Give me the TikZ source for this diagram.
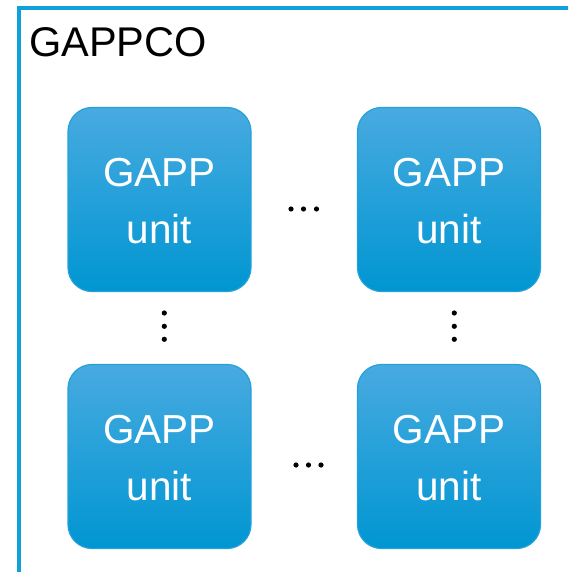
\documentclass[tikz,border=0pt]{standalone}
\usepackage{fontspec}
\setmainfont{Liberation Sans}
\usetikzlibrary{calc}
\definecolor{framecol}{RGB}{16,160,218}
\definecolor{unittop}{RGB}{72,170,224}
\definecolor{unitmid}{RGB}{10,161,221}
\definecolor{unitbot}{RGB}{0,150,210}
\definecolor{unitedge}{RGB}{36,162,216}
\tikzset{
  unitbox/.style={rounded corners=24pt, minimum width=183pt, minimum height=184pt,
    top color=unittop, middle color=unitmid, bottom color=unitbot,
    draw=unitedge, line width=1.2pt, inner sep=0pt},
  unittext/.style={text=white, anchor=base, inner sep=0pt,
    font=\fontsize{40.5}{48}\selectfont},
  titletext/.style={anchor=base west, inner sep=0pt, font=\fontsize{41.5}{48}\selectfont},
  dotmark/.style={fill=black}
}
\begin{document}
\begin{tikzpicture}[x=1pt, y=-1pt]
  \useasboundingbox (0,0) rectangle (568,572);
  \clip (0,0) rectangle (568,572);
  % outer container, open towards the right and the bottom
  \draw[framecol, line width=3.5pt] (19,590) -- (19,8) -- (590,8);
  \node[titletext] (title) at (29,57) {GAPPCO};

  % processing units
  \node[unitbox] (u11) at (159.5,199.5) {};
  \node[unitbox] (u12) at (449,199.5) {};
  \node[unitbox] (u21) at (159.5,456.5) {};
  \node[unitbox] (u22) at (449,456.5) {};
  \foreach \u in {u11,u12,u21,u22}{
    \node[unittext] (\u-a) at ($(\u.center)+(0,-13.5)$) {GAPP};
    \node[unittext] (\u-b) at ($(\u.center)+(0,43.5)$) {unit};
  }

  % ellipses between the units
  \foreach \x in {291,303.5,316.5} \fill[dotmark] (\x,209) circle (2.6pt);
  \foreach \x in {296,308.5,321} \fill[dotmark] (\x,465) circle (2.6pt);
  \foreach \y in {313,326.3,339.3} {
    \fill[dotmark] (164.3,\y) circle (2.6pt);
    \fill[dotmark] (454.3,\y) circle (2.6pt);
  }
\end{tikzpicture}
\end{document}
